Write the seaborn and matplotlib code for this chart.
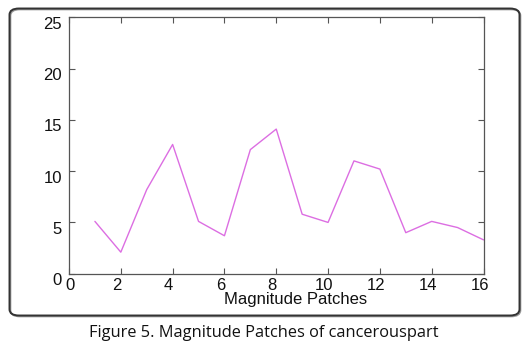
import matplotlib
matplotlib.use("Agg")
import matplotlib.pyplot as plt
from matplotlib.patches import FancyBboxPatch
from matplotlib.transforms import ScaledTranslation
import seaborn as sns
import pandas as pd

# Magnitude of each image patch
patches = [1, 2, 3, 4, 5, 6, 7, 8, 9, 10, 11, 12, 13, 14, 15, 16]
magnitude = [5.1, 2.1, 8.2, 12.6, 5.1, 3.7, 12.1, 14.1, 5.8, 5.0, 11.0, 10.2, 4.0, 5.1, 4.5, 3.3]
x_ticks = [0, 2, 4, 6, 8, 10, 12, 14, 16]
y_ticks = [0, 5, 10, 15, 20, 25]

df = pd.DataFrame({"patch": patches, "magnitude": magnitude})

sns.set_theme(style="white")
plt.rcParams["font.family"] = ["Liberation Sans", "DejaVu Sans"]

W, H = 529, 348
fig = plt.figure(figsize=(W / 100, H / 100), dpi=100)
fig.patch.set_facecolor("white")

# axes box in pixel coordinates
left, right, top, bottom = 69, 483.5, 17.3, 273.7
ax = fig.add_axes([left / W, 1 - bottom / H, (right - left) / W, (bottom - top) / H])

sns.lineplot(data=df, x="patch", y="magnitude", ax=ax, color="#dc6ee2", linewidth=1.0)

ax.set_xlim(0, 16)
ax.set_ylim(0, 25)
ax.set_xticks(x_ticks)
ax.set_yticks(y_ticks)
ax.set_xticklabels([str(v) for v in x_ticks], fontsize=12, color="#111111")
ax.set_yticklabels([str(v) for v in y_ticks], fontsize=12, color="#111111")
ax.tick_params(direction="in", length=4, width=0.8, color="#555555",
               top=True, right=True, bottom=True, left=True, pad=5)
ax.tick_params(axis="x", pad=3)

# tick labels sit slightly low / left of their ticks
px = 1 / 100
for lab in ax.get_yticklabels():
    lab.set_transform(lab.get_transform() + ScaledTranslation(0, -5.5 * px, fig.dpi_scale_trans))
for lab, v in zip(ax.get_xticklabels(), x_ticks):
    dx = 1 if v == 0 else -4
    lab.set_transform(lab.get_transform() + ScaledTranslation(dx * px, 0, fig.dpi_scale_trans))

for s in ax.spines.values():
    s.set_color("#555555")
    s.set_linewidth(0.9)

ax.set_ylabel("")
ax.set_xlabel("Magnitude Patches", fontsize=12, color="#111111")
ax.xaxis.set_label_coords((295.5 - left) / (right - left), -(292 - bottom) / (bottom - top))

# rounded frame around the plot
frame = FancyBboxPatch((9.5 / W, 1 - 315.5 / H), (519.5 - 9.5) / W, (315.5 - 8.5) / H,
                       boxstyle="round,pad=0,rounding_size=0.018",
                       transform=fig.transFigure, fill=False,
                       edgecolor="#333333", linewidth=1.4, zorder=-1)
fig.patches.append(frame)
shadow = FancyBboxPatch((10.5 / W, 1 - 316.5 / H), (519.5 - 9.5) / W, (315.5 - 8.5) / H,
                        boxstyle="round,pad=0,rounding_size=0.018",
                        transform=fig.transFigure, fill=False,
                        edgecolor="#999999", linewidth=1.2, zorder=-2)
fig.patches.append(shadow)

fig.text(264 / W, 1 - 337 / H, "Figure 5. Magnitude Patches of cancerouspart",
         ha="center", va="baseline", fontsize=11.8, color="#111111",
         family=["Open Sans", "DejaVu Sans"])

fig.savefig("out.png", dpi=100, facecolor="white")
